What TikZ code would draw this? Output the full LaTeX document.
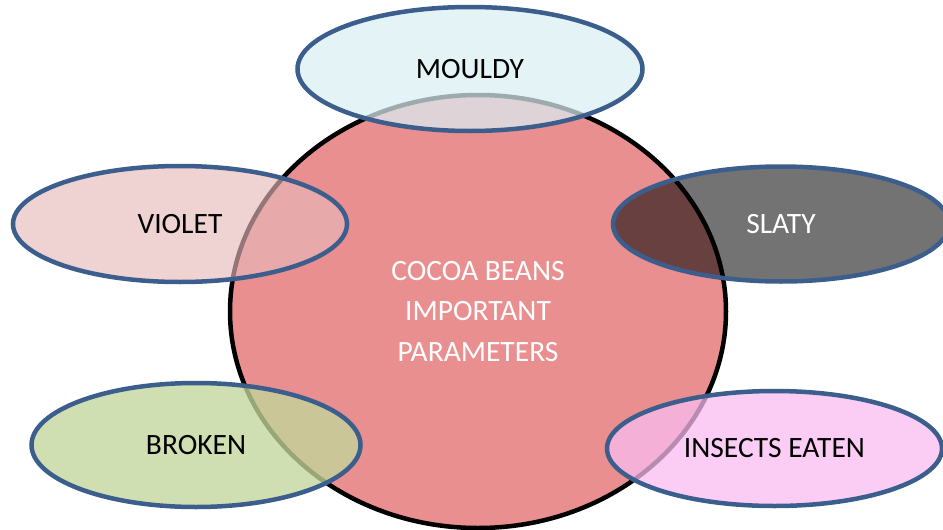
\documentclass[tikz,border=0pt]{standalone}
\usepackage{fontspec}
\setmainfont{Carlito}
\usetikzlibrary{shapes.geometric}
\definecolor{circlefill}{RGB}{234,143,143}
\definecolor{edgeblue}{RGB}{59,94,141}
\definecolor{mouldyc}{RGB}{218,238,243}
\definecolor{violetc}{RGB}{230,185,184}
\definecolor{brokenc}{RGB}{195,214,155}
\definecolor{insectc}{RGB}{249,188,242}
\begin{document}
\begin{tikzpicture}[x=1pt,y=-1pt,
  lbl/.style={ellipse, draw=edgeblue, line width=4.5pt, inner sep=0pt,
    text opacity=1, font=\fontsize{29.5}{34}\selectfont},
  centre/.style={ellipse, draw=black, line width=4.5pt, fill=circlefill,
    inner sep=0pt, text=white, align=center,
    font=\fontsize{29.5}{40.5}\selectfont}]
\useasboundingbox (0,0) rectangle (943,530);
\clip (0,0) rectangle (943,530);
\node[centre, minimum width=496pt, minimum height=433pt] (c) at (478,311.5)
  {COCOA BEANS\\IMPORTANT\\PARAMETERS};
\node[lbl, fill=mouldyc, fill opacity=0.72, minimum width=345pt, minimum height=124pt]
  (mouldy) at (470,69) {\raisebox{-3pt}{MOULDY}};
\node[lbl, fill=violetc, fill opacity=0.64, minimum width=334pt, minimum height=116pt]
  (violet) at (180,224) {VIOLET};
\node[lbl, fill=black, fill opacity=0.55, text=white, minimum width=336pt, minimum height=115pt]
  (slaty) at (781,224) {SLATY};
\node[lbl, fill=brokenc, fill opacity=0.78, minimum width=329pt, minimum height=124pt]
  (broken) at (196,445) {BROKEN};
\node[lbl, fill=insectc, fill opacity=0.74, minimum width=335pt, minimum height=115pt]
  (insects) at (774.5,448.5) {\raisebox{-3pt}{INSECTS EATEN}};
\end{tikzpicture}
\end{document}
